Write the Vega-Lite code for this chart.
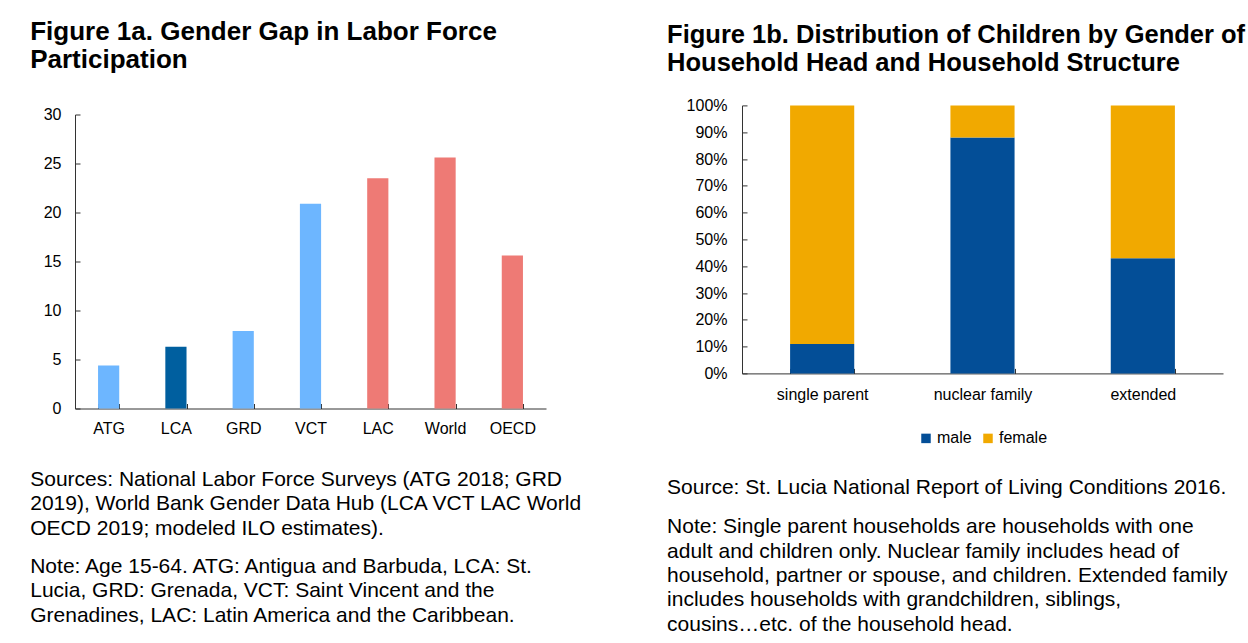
{
  "$schema": "https://vega.github.io/schema/vega-lite/v6.json",
  "background": "white",
  "padding": {"left": 30, "top": 18, "right": 4, "bottom": 4},
  "autosize": {"type": "pad"},
  "spacing": 84,
  "center": true,
  "resolve": {"scale": {"color": "independent"}, "legend": {"color": "independent"}},
  "config": {
    "font": "Liberation Sans",
    "view": {"stroke": null},
    "axis": {
      "labelFont": "Liberation Sans",
      "labelFontSize": 16,
      "labelColor": "#000",
      "domainColor": "#333",
      "tickColor": "#333",
      "grid": false,
      "title": null
    },
    "title": {"font": "Liberation Sans", "color": "#000"},
    "legend": {"layout": {"bottom": {"anchor": "middle"}}}
  },
  "hconcat": [
    {
      "title": {
        "text": ["Figure 1a. Gender Gap in Labor Force", "Participation"],
        "fontSize": 26,
        "fontWeight": "bold",
        "lineHeight": 28,
        "anchor": "start",
        "frame": "bounds",
        "offset": 34
      },
      "resolve": {"scale": {"color": "independent"}, "legend": {"color": "independent"}},
      "vconcat": [
        {
          "title": {
            "text": [
              "Sources: National Labor Force Surveys (ATG 2018; GRD",
              "2019), World Bank Gender Data Hub (LCA VCT LAC World",
              "OECD 2019; modeled ILO estimates)."
            ],
            "subtitle": [
              "Note: Age 15-64. ATG: Antigua and Barbuda, LCA: St.",
              "Lucia, GRD: Grenada, VCT: Saint Vincent and the",
              "Grenadines, LAC: Latin America and the Caribbean."
            ],
            "orient": "bottom",
            "anchor": "start",
            "frame": "bounds",
            "dx": -13,
            "fontSize": 21,
            "fontWeight": "normal",
            "lineHeight": 24.5,
            "subtitleFont": "Liberation Sans",
            "subtitleFontSize": 21,
            "subtitleColor": "#000",
            "subtitleLineHeight": 24.5,
            "subtitlePadding": 17,
            "offset": 32
          },
          "resolve": {"scale": {"color": "independent"}, "legend": {"color": "independent"}},
          "vconcat": [
            {
              "width": 471,
              "height": 294,
              "data": {
                "values": [
                  {"country": "ATG", "gap": 4.4, "group": "other"},
                  {"country": "LCA", "gap": 6.3, "group": "LCA"},
                  {"country": "GRD", "gap": 7.9, "group": "other"},
                  {"country": "VCT", "gap": 20.9, "group": "other"},
                  {"country": "LAC", "gap": 23.5, "group": "benchmark"},
                  {"country": "World", "gap": 25.6, "group": "benchmark"},
                  {"country": "OECD", "gap": 15.6, "group": "benchmark"}
                ]
              },
              "mark": {"type": "bar"},
              "encoding": {
                "x": {
                  "field": "country",
                  "type": "nominal",
                  "sort": null,
                  "scale": {"paddingInner": 0.685, "paddingOuter": 0.3425},
                  "axis": {"labelAngle": 0, "tickBand": "extent", "tickSize": -5, "labelPadding": 17}
                },
                "y": {
                  "field": "gap",
                  "type": "quantitative",
                  "scale": {"domain": [0, 30], "nice": false},
                  "axis": {"values": [0, 5, 10, 15, 20, 25, 30], "tickSize": -5, "labelPadding": 19}
                },
                "color": {
                  "field": "group",
                  "type": "nominal",
                  "scale": {"domain": ["other", "LCA", "benchmark"], "range": ["#6DB6FF", "#005F9F", "#EE7A75"]},
                  "legend": null
                }
              }
            }
          ]
        }
      ]
    },
    {
      "title": {
        "text": ["Figure 1b. Distribution of Children by Gender of", "Household Head and Household Structure"],
        "fontSize": 25.5,
        "fontWeight": "bold",
        "lineHeight": 28,
        "anchor": "start",
        "frame": "bounds",
        "offset": 21
      },
      "resolve": {"scale": {"color": "independent"}, "legend": {"color": "independent"}},
      "vconcat": [
        {
          "title": {
            "text": ["Source: St. Lucia National Report of Living Conditions 2016."],
            "subtitle": [
              "Note: Single parent households are households with one",
              "adult and children only. Nuclear family includes head of",
              "household, partner or spouse, and children. Extended family",
              "includes households with grandchildren, siblings,",
              "cousins…etc. of the household head."
            ],
            "orient": "bottom",
            "anchor": "start",
            "frame": "bounds",
            "dx": -19,
            "fontSize": 21,
            "fontWeight": "normal",
            "lineHeight": 24.3,
            "subtitleFont": "Liberation Sans",
            "subtitleFontSize": 21,
            "subtitleColor": "#000",
            "subtitleLineHeight": 24.3,
            "subtitlePadding": 18,
            "offset": 31
          },
          "resolve": {"scale": {"color": "independent"}, "legend": {"color": "independent"}},
          "vconcat": [
            {
              "width": 481,
              "height": 268,
              "data": {
                "values": [
                  {"structure": "single parent", "gender": "male", "share": 0.11},
                  {"structure": "single parent", "gender": "female", "share": 0.89},
                  {"structure": "nuclear family", "gender": "male", "share": 0.88},
                  {"structure": "nuclear family", "gender": "female", "share": 0.12},
                  {"structure": "extended", "gender": "male", "share": 0.43},
                  {"structure": "extended", "gender": "female", "share": 0.57}
                ]
              },
              "mark": {"type": "bar"},
              "encoding": {
                "x": {
                  "field": "structure",
                  "type": "nominal",
                  "sort": null,
                  "scale": {"paddingInner": 0.6, "paddingOuter": 0.3},
                  "axis": {"labelAngle": 0, "tickBand": "extent", "tickSize": -5, "labelPadding": 18}
                },
                "y": {
                  "field": "share",
                  "type": "quantitative",
                  "stack": "zero",
                  "scale": {"domain": [0, 1], "nice": false},
                  "axis": {"values": [0, 0.1, 0.2, 0.3, 0.4, 0.5, 0.6, 0.7, 0.8, 0.9, 1], "format": ".0%", "tickSize": -5, "labelPadding": 20}
                },
                "color": {
                  "field": "gender",
                  "type": "nominal",
                  "scale": {"domain": ["male", "female"], "range": ["#034E97", "#F1A900"]},
                  "legend": {
                    "title": null,
                    "orient": "bottom",
                    "direction": "horizontal",
                    "symbolType": "square",
                    "symbolSize": 90,
                    "symbolStrokeWidth": 0,
                    "labelFont": "Liberation Sans",
                    "labelFontSize": 16,
                    "labelColor": "#000",
                    "labelOffset": 3,
                    "columnPadding": 8,
                    "offset": 28
                  }
                },
                "order": {"field": "gender", "sort": "descending"}
              }
            }
          ]
        }
      ]
    }
  ]
}
